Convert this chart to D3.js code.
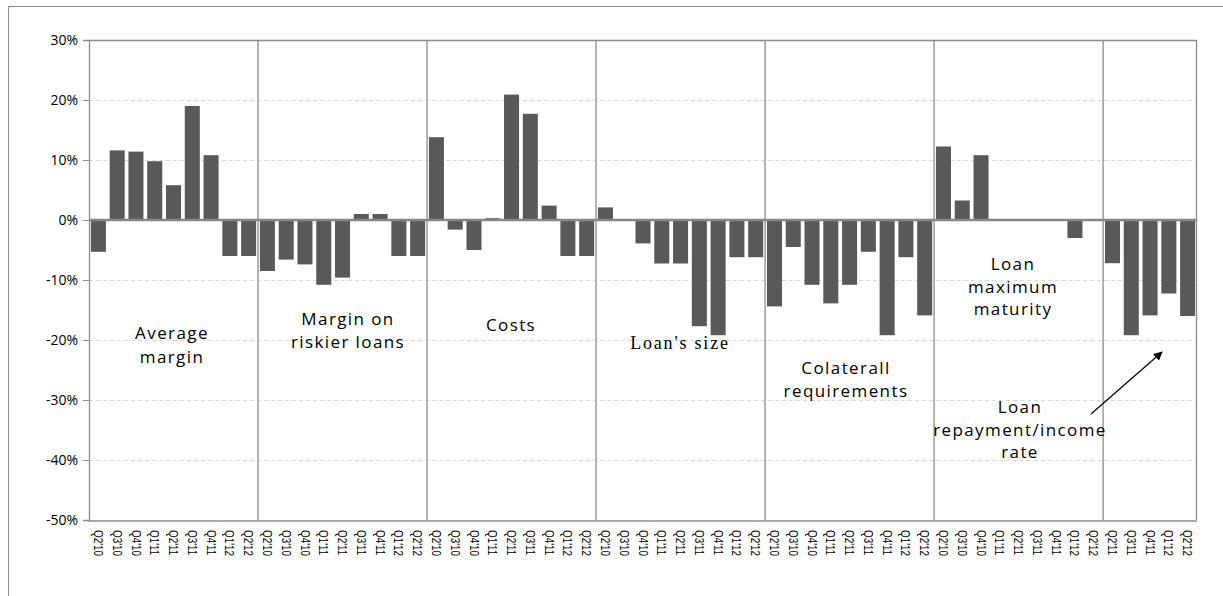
<!DOCTYPE html>
<html>
<head>
<meta charset="utf-8">
<script src="https://cdn.jsdelivr.net/npm/d3@7"></script>
<style>
  html, body { margin: 0; padding: 0; background: #fff; }
  svg { display: block; }
</style>
</head>
<body>
<svg id="chart" width="1223" height="596"></svg>
<script>
// Quarter labels for each survey question block
const quarters = ["Q2'10", "Q3'10", "Q4'10", "Q1'11", "Q2'11", "Q3'11", "Q4'11", "Q1'12", "Q2'12"];
const quartersShort = ["Q2'11", "Q3'11", "Q4'11", "Q1'12", "Q2'12"];

// Net percentages (share of respondents), one array per credit condition
const averageMargin  = [-5.3, 11.6, 11.4, 9.8, 5.8, 19.0, 10.8, -6.0, -6.0];
const riskierMargin  = [-8.5, -6.6, -7.4, -10.8, -9.6, 1.0, 1.0, -6.0, -6.0];
const costs          = [13.8, -1.6, -5.0, 0.3, 20.9, 17.7, 2.4, -6.0, -6.0];
const loanSize       = [2.1, 0, -3.9, -7.25, -7.25, -17.7, -19.2, -6.2, -6.2];
const collateral     = [-14.4, -4.5, -10.8, -13.9, -10.8, -5.3, -19.2, -6.2, -15.9];
const maxMaturity    = [12.25, 3.25, 10.8, 0, 0, 0, 0, -3.0, 0];
const repaymentRate  = [-7.2, -19.2, -15.9, -12.25, -16.0];

const yTicks = [-50, -40, -30, -20, -10, 0, 10, 20, 30];

const blocks = [
  { values: averageMargin, labels: quarters },
  { values: riskierMargin, labels: quarters },
  { values: costs,         labels: quarters },
  { values: loanSize,      labels: quarters },
  { values: collateral,    labels: quarters },
  { values: maxMaturity,   labels: quarters },
  { values: repaymentRate, labels: quartersShort }
];

// Flatten into one row per bar
const rows = [];
blocks.forEach((b, bi) => {
  b.values.forEach((v, i) => rows.push({ id: bi + "-" + i, block: bi, label: b.labels[i], value: v }));
});

const svg = d3.select("#chart");
const margin = { left: 89, right: 26, top: 40, bottom: 76 };
const W = 1223, H = 596;
const plotW = W - margin.left - margin.right;
const plotH = H - margin.top - margin.bottom;

const x = d3.scaleBand()
  .domain(rows.map(d => d.id))
  .range([margin.left, margin.left + plotW])
  .paddingInner(0.2)
  .paddingOuter(0.1);

const y = d3.scaleLinear()
  .domain([-50, 30])
  .range([margin.top + plotH, margin.top]);

const grey = "#8c8c8c";

// Outer chart frame
svg.append("path")
  .attr("d", `M8.5,${H} V6.5 H${W}`)
  .attr("fill", "none")
  .attr("stroke", grey)
  .attr("stroke-width", 1);

// Dashed horizontal gridlines
svg.append("g")
  .selectAll("line")
  .data(yTicks.filter(t => t !== 0 && t !== -50 && t !== 30))
  .join("line")
  .attr("x1", margin.left)
  .attr("x2", margin.left + plotW)
  .attr("y1", d => Math.round(y(d)) + 0.5)
  .attr("y2", d => Math.round(y(d)) + 0.5)
  .attr("stroke", "#d9d9d9")
  .attr("stroke-dasharray", "4,3");

// Bars
svg.append("g")
  .selectAll("rect")
  .data(rows.filter(d => d.value !== 0))
  .join("rect")
  .attr("x", d => x(d.id))
  .attr("width", x.bandwidth())
  .attr("y", d => y(Math.max(0, d.value)))
  .attr("height", d => Math.abs(y(d.value) - y(0)))
  .attr("fill", "#595959");

// Plot border (top and right)
svg.append("path")
  .attr("d", `M${margin.left},${margin.top + 0.5} H${margin.left + plotW - 0.5} V${margin.top + plotH}`)
  .attr("fill", "none")
  .attr("stroke", grey)
  .attr("stroke-width", 1.3);

// Vertical separators between blocks
const boundaries = [];
let count = 0;
blocks.slice(0, -1).forEach(b => { count += b.values.length; boundaries.push(count); });
svg.append("g")
  .selectAll("line")
  .data(boundaries)
  .join("line")
  .attr("x1", d => x(rows[d].id) - x.step() * x.paddingInner() / 2)
  .attr("x2", d => x(rows[d].id) - x.step() * x.paddingInner() / 2)
  .attr("y1", margin.top)
  .attr("y2", margin.top + plotH)
  .attr("stroke", grey)
  .attr("stroke-width", 1.3);

// Zero line
svg.append("line")
  .attr("x1", margin.left)
  .attr("x2", margin.left + plotW)
  .attr("y1", y(0))
  .attr("y2", y(0))
  .attr("stroke", "#868686")
  .attr("stroke-width", 2.4);

// Y axis
const yAxis = svg.append("g")
  .attr("transform", `translate(${margin.left},0)`)
  .call(d3.axisLeft(y).tickValues(yTicks).tickFormat(d => d + "%").tickSize(6).tickPadding(5));
yAxis.attr("font-family", "'Open Sans', sans-serif").attr("font-size", 14);
yAxis.select(".domain").attr("stroke", grey).attr("stroke-width", 1.3);
yAxis.selectAll(".tick line").attr("stroke", grey);
yAxis.selectAll("text").attr("fill", "#000");

// X axis baseline
svg.append("line")
  .attr("x1", margin.left - 0.5)
  .attr("x2", margin.left + plotW)
  .attr("y1", margin.top + plotH + 1)
  .attr("y2", margin.top + plotH + 1)
  .attr("stroke", grey)
  .attr("stroke-width", 1.3);

// Rotated quarter labels
svg.append("g")
  .selectAll("text")
  .data(rows)
  .join("text")
  .attr("transform", d => `translate(${x(d.id) + x.bandwidth() / 2},${margin.top + plotH + 10}) rotate(90) scale(0.9,1.15)`)
  .attr("dy", "0.35em")
  .attr("text-anchor", "start")
  .style("font-family", "'Liberation Sans', Arial, sans-serif")
  .style("font-size", "11px")
  .attr("fill", "#000")
  .text(d => d.label);

// Block titles inside the plot
const notes = [
  { lines: ["Average", "margin"], cx: 172, y0: 339, lh: 24 },
  { lines: ["Margin on", "riskier loans"], cx: 348, y0: 325, lh: 23 },
  { lines: ["Costs"], cx: 511, y0: 331, lh: 23 },
  { lines: ["Colaterall", "requirements"], cx: 846, y0: 374, lh: 23 },
  { lines: ["Loan", "maximum", "maturity"], cx: 1013, y0: 270, lh: 22.5 },
  { lines: ["Loan", "repayment/income", "rate"], cx: 1020, y0: 413, lh: 22.5 }
];
const noteG = svg.append("g")
  .style("font-family", "'Open Sans', sans-serif")
  .style("font-size", "17px")
  .style("letter-spacing", "1.4px")
  .attr("fill", "#000")
  .attr("text-anchor", "middle");
notes.forEach(n => {
  n.lines.forEach((t, i) => {
    noteG.append("text")
      .attr("x", n.cx)
      .attr("y", n.y0 + i * n.lh)
      .text(t);
  });
});

svg.append("text")
  .attr("x", 680)
  .attr("y", 349)
  .attr("text-anchor", "middle")
  .style("font-family", "'Liberation Serif', 'Times New Roman', serif")
  .style("font-size", "18px")
  .style("letter-spacing", "1.8px")
  .attr("fill", "#000")
  .text("Loan's size");

// Arrow pointing to the last block
svg.append("defs").append("marker")
  .attr("id", "arrowHead")
  .attr("viewBox", "0 0 10 10")
  .attr("refX", 9).attr("refY", 5)
  .attr("markerWidth", 9).attr("markerHeight", 9)
  .attr("markerUnits", "userSpaceOnUse")
  .attr("orient", "auto")
  .append("path")
  .attr("d", "M0,0 L10,5 L0,10 Z")
  .attr("fill", "#000");

svg.append("line")
  .attr("x1", 1091).attr("y1", 414)
  .attr("x2", 1162).attr("y2", 352)
  .attr("stroke", "#000")
  .attr("stroke-width", 1.2)
  .attr("marker-end", "url(#arrowHead)");
</script>
</body>
</html>
